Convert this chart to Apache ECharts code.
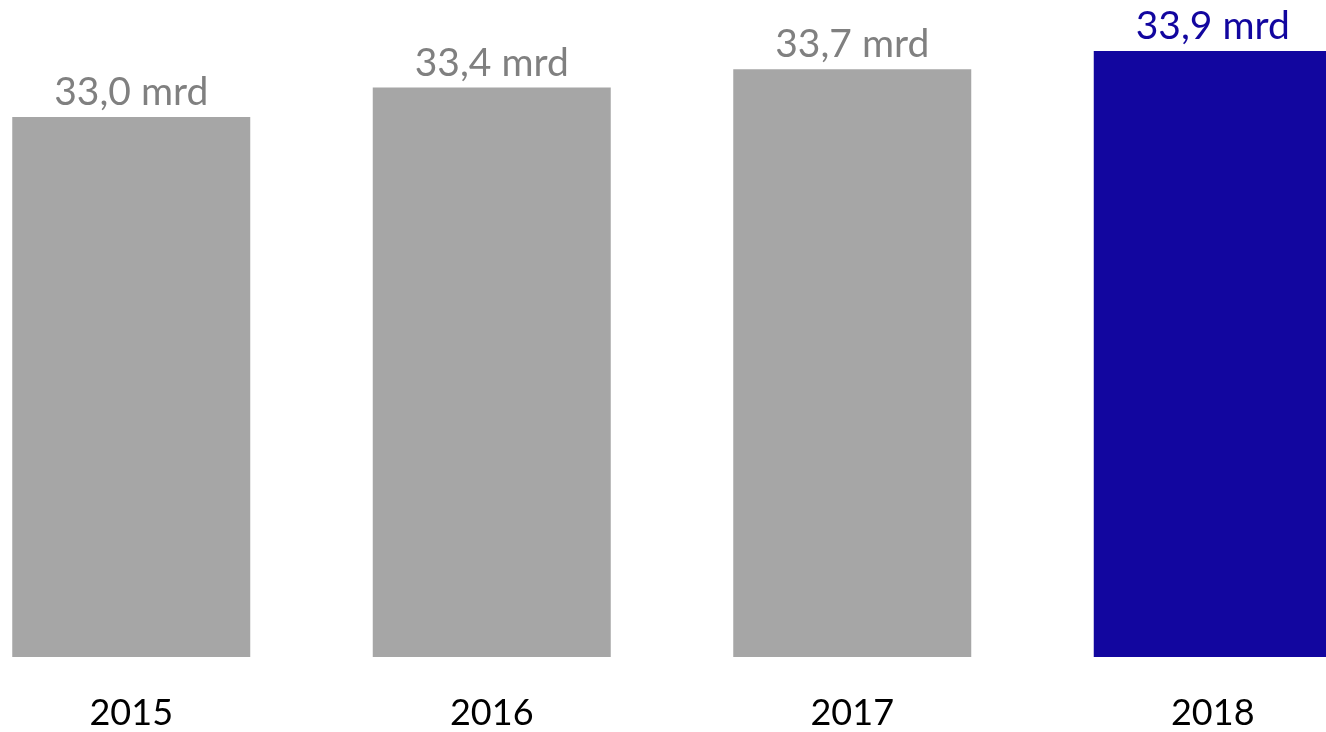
<!DOCTYPE html>
<html>
<head>
<meta charset="utf-8">
<script src="https://cdn.jsdelivr.net/npm/echarts@6/dist/echarts.min.js"></script>
<style>
  html, body { margin: 0; padding: 0; background: #fff; }
  #main { width: 1326px; height: 732px; }
</style>
</head>
<body>
<div id="main"></div>
<script>
const years = ['2015', '2016', '2017', '2018'];
const revenue = [33.03, 33.43, 33.68, 33.93];
const highlight = [false, false, false, true];

const chart = echarts.init(document.getElementById('main'));
const FONT = 'Lato';

chart.setOption({
  animation: false,
  grid: { left: -49, width: 1442, top: 48, bottom: 75, outerBoundsMode: 'none', containLabel: false },
  xAxis: {
    type: 'category',
    data: years,
    axisLine: { show: false },
    axisTick: { show: false },
    axisLabel: { color: '#000', fontSize: 36, fontFamily: FONT, margin: 38 }
  },
  yAxis: {
    type: 'value',
    min: 25.66,
    max: 33.97,
    show: false,
    splitLine: { show: false }
  },
  series: [{
    type: 'bar',
    barWidth: 238,
    data: revenue.map((v, i) => ({
      value: v,
      itemStyle: { color: highlight[i] ? '#12069f' : '#a6a6a6' },
      label: { color: highlight[i] ? '#12069f' : '#808080' }
    })),
    label: {
      show: true,
      position: 'top',
      distance: 5,
      fontSize: 39,
      fontFamily: FONT,
      formatter: p => p.value.toFixed(1).replace('.', ',') + ' mrd'
    }
  }]
});
</script>
</body>
</html>
